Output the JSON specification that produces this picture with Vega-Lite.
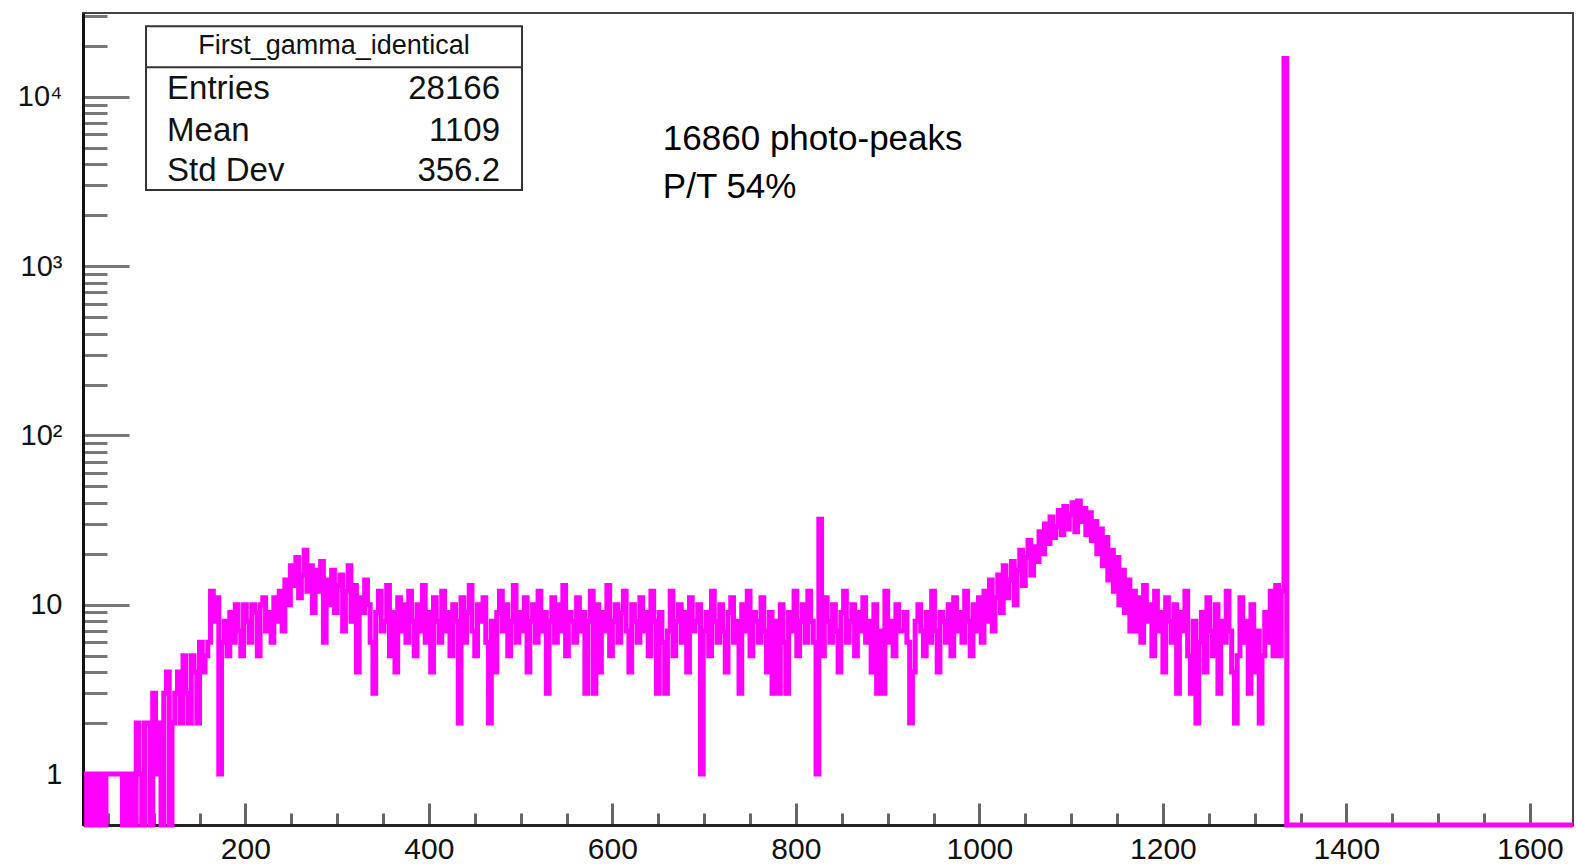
{
 "$schema": "https://vega.github.io/schema/vega-lite/v6.json",
 "width": 1490, "height": 812,
 "autosize": {"type": "none"},
 "padding": {"left": 83, "top": 13, "right": 3, "bottom": 39},
 "background": "white",
 "config": {"view": {"stroke": "#444", "strokeWidth": 2}, "font": "Liberation Sans"},
 "datasets": {
  "hist": [
{"x":24,"c":1},{"x":27,"c":0},{"x":30,"c":1},{"x":33,"c":0},{"x":36,"c":1},{"x":39,"c":0},{"x":42,"c":1},{"x":45,"c":0},{"x":48,"c":1},{"x":51,"c":1},{"x":54,"c":1},{"x":57,"c":1},{"x":60,"c":1},{"x":63,"c":1},
{"x":66,"c":0},{"x":69,"c":1},{"x":72,"c":0},{"x":75,"c":1},{"x":78,"c":0},{"x":81,"c":2},{"x":84,"c":1},{"x":87,"c":0},{"x":90,"c":2},{"x":93,"c":2},{"x":96,"c":0},{"x":99,"c":3},{"x":102,"c":1},{"x":105,"c":2},{"x":108,"c":0},{"x":111,"c":3},{"x":114,"c":4},{"x":117,"c":0},{"x":120,"c":2},{"x":123,"c":3},{"x":126,"c":4},{"x":129,"c":2},{"x":132,"c":5},{"x":135,"c":3},{"x":138,"c":2},{"x":141,"c":5},{"x":144,"c":4},{"x":147,"c":2},{"x":150,"c":6},{"x":153,"c":4},{"x":156,"c":5},{"x":159,"c":6},{"x":162,"c":12},{"x":165,"c":8},{"x":168,"c":11},{"x":171,"c":1},{"x":174,"c":6},{"x":177,"c":8},{"x":180,"c":5},{"x":183,"c":9},{"x":186,"c":6},{"x":189,"c":10},{"x":192,"c":7},{"x":195,"c":5},{"x":198,"c":10},{"x":201,"c":8},{"x":204,"c":6},{"x":207,"c":10},{"x":210,"c":9},{"x":213,"c":5},{"x":216,"c":10},{"x":219,"c":11},{"x":222,"c":7},
{"x":225,"c":9},{"x":228,"c":6},{"x":231,"c":11},{"x":234,"c":8},{"x":237,"c":12},{"x":240,"c":7},{"x":243,"c":14},{"x":246,"c":10},{"x":249,"c":17},{"x":252,"c":13},{"x":255,"c":19},{"x":258,"c":11},{"x":261,"c":15},{"x":264,"c":21},{"x":267,"c":12},{"x":270,"c":17},{"x":273,"c":9},{"x":276,"c":16},{"x":279,"c":12},{"x":282,"c":18},{"x":285,"c":6},{"x":288,"c":14},{"x":291,"c":10},{"x":294,"c":16},{"x":297,"c":9},{"x":300,"c":13},{"x":303,"c":15},{"x":306,"c":7},{"x":309,"c":12},{"x":312,"c":17},{"x":315,"c":8},{"x":318,"c":13},{"x":321,"c":4},{"x":324,"c":11},{"x":327,"c":9},{"x":330,"c":14},
{"x":333,"c":10},{"x":336,"c":6},{"x":339,"c":3},{"x":342,"c":9},{"x":345,"c":12},{"x":348,"c":7},{"x":351,"c":8},{"x":354,"c":13},{"x":357,"c":5},{"x":360,"c":9},
{"x":363,"c":4},{"x":366,"c":11},{"x":369,"c":7},{"x":372,"c":10},{"x":375,"c":6},{"x":378,"c":12},{"x":381,"c":8},{"x":384,"c":5},{"x":387,"c":10},{"x":390,"c":7},
{"x":393,"c":13},{"x":396,"c":6},{"x":399,"c":9},{"x":402,"c":4},{"x":405,"c":11},{"x":408,"c":8},{"x":411,"c":6},{"x":414,"c":12},{"x":417,"c":7},{"x":420,"c":9},
{"x":423,"c":5},{"x":426,"c":10},{"x":429,"c":8},{"x":432,"c":2},{"x":435,"c":11},{"x":438,"c":6},{"x":441,"c":9},{"x":444,"c":13},{"x":447,"c":7},{"x":450,"c":5},
{"x":453,"c":10},{"x":456,"c":8},{"x":459,"c":11},{"x":462,"c":6},{"x":465,"c":2},{"x":468,"c":8},{"x":471,"c":4},{"x":474,"c":9},{"x":477,"c":12},{"x":480,"c":7},
{"x":483,"c":10},{"x":486,"c":5},{"x":489,"c":8},{"x":492,"c":13},{"x":495,"c":6},{"x":498,"c":9},{"x":501,"c":7},{"x":504,"c":11},{"x":507,"c":4},{"x":510,"c":8},
{"x":513,"c":10},{"x":516,"c":6},{"x":519,"c":12},{"x":522,"c":7},{"x":525,"c":9},{"x":528,"c":3},{"x":531,"c":8},{"x":534,"c":11},{"x":537,"c":6},{"x":540,"c":10},
{"x":543,"c":7},{"x":546,"c":13},{"x":549,"c":5},{"x":552,"c":9},{"x":555,"c":8},{"x":558,"c":6},{"x":561,"c":11},{"x":564,"c":7},{"x":567,"c":9},{"x":570,"c":3},
{"x":573,"c":8},{"x":576,"c":12},{"x":579,"c":3},{"x":582,"c":10},{"x":585,"c":4},{"x":588,"c":9},{"x":591,"c":7},{"x":594,"c":13},{"x":597,"c":5},{"x":600,"c":8},
{"x":603,"c":10},{"x":606,"c":6},{"x":609,"c":9},{"x":612,"c":12},{"x":615,"c":7},{"x":618,"c":4},{"x":621,"c":10},{"x":624,"c":8},{"x":627,"c":6},{"x":630,"c":11},
{"x":633,"c":7},{"x":636,"c":9},{"x":639,"c":5},{"x":642,"c":12},{"x":645,"c":8},{"x":648,"c":3},{"x":651,"c":9},{"x":654,"c":6},{"x":657,"c":3},{"x":660,"c":7},
{"x":663,"c":12},{"x":666,"c":5},{"x":669,"c":8},{"x":672,"c":10},{"x":675,"c":6},{"x":678,"c":9},{"x":681,"c":4},{"x":684,"c":11},{"x":687,"c":7},{"x":690,"c":8},
{"x":693,"c":10},{"x":696,"c":1},{"x":699,"c":7},{"x":702,"c":9},{"x":705,"c":5},{"x":708,"c":12},{"x":711,"c":8},{"x":714,"c":6},{"x":717,"c":10},{"x":720,"c":7},
{"x":723,"c":4},{"x":726,"c":9},{"x":729,"c":11},{"x":732,"c":6},{"x":735,"c":8},{"x":738,"c":3},{"x":741,"c":10},{"x":744,"c":7},{"x":747,"c":12},{"x":750,"c":5},
{"x":753,"c":9},{"x":756,"c":8},{"x":759,"c":6},{"x":762,"c":11},{"x":765,"c":7},{"x":768,"c":4},{"x":771,"c":9},{"x":774,"c":3},{"x":777,"c":8},{"x":780,"c":3},
{"x":783,"c":10},{"x":786,"c":6},{"x":789,"c":3},{"x":792,"c":9},{"x":795,"c":7},{"x":798,"c":12},{"x":801,"c":5},{"x":804,"c":8},{"x":807,"c":10},{"x":810,"c":6},
{"x":813,"c":12},{"x":816,"c":8},{"x":819,"c":6},{"x":822,"c":1},{"x":825,"c":32},{"x":828,"c":5},{"x":831,"c":11},{"x":834,"c":8},{"x":837,"c":6},{"x":840,"c":10},
{"x":843,"c":7},{"x":846,"c":4},{"x":849,"c":9},{"x":852,"c":12},{"x":855,"c":6},{"x":858,"c":8},{"x":861,"c":10},{"x":864,"c":5},{"x":867,"c":9},{"x":870,"c":7},
{"x":873,"c":11},{"x":876,"c":6},{"x":879,"c":8},{"x":882,"c":4},{"x":885,"c":10},{"x":888,"c":3},{"x":891,"c":7},{"x":894,"c":3},{"x":897,"c":12},{"x":900,"c":6},
{"x":903,"c":8},{"x":906,"c":5},{"x":909,"c":10},{"x":912,"c":7},{"x":915,"c":7},{"x":918,"c":9},{"x":921,"c":6},{"x":924,"c":2},{"x":927,"c":4},{"x":930,"c":8},
{"x":933,"c":10},{"x":936,"c":7},{"x":939,"c":5},{"x":942,"c":9},{"x":945,"c":6},{"x":948,"c":12},{"x":951,"c":7},{"x":954,"c":4},{"x":957,"c":9},{"x":960,"c":8},
{"x":963,"c":6},{"x":966,"c":10},{"x":969,"c":5},{"x":972,"c":11},{"x":975,"c":7},{"x":978,"c":9},{"x":981,"c":6},{"x":984,"c":12},{"x":987,"c":8},{"x":990,"c":5},
{"x":993,"c":10},{"x":996,"c":7},{"x":999,"c":11},
{"x":1002,"c":6},{"x":1005,"c":12},{"x":1008,"c":8},{"x":1011,"c":14},{"x":1014,"c":7},{"x":1017,"c":11},{"x":1020,"c":15},{"x":1023,"c":9},{"x":1026,"c":17},{"x":1029,"c":11},
{"x":1032,"c":14},{"x":1035,"c":18},{"x":1038,"c":10},{"x":1041,"c":16},{"x":1044,"c":21},{"x":1047,"c":13},{"x":1050,"c":19},{"x":1053,"c":24},{"x":1056,"c":15},{"x":1059,"c":22},
{"x":1062,"c":18},{"x":1065,"c":27},{"x":1068,"c":20},{"x":1071,"c":30},{"x":1074,"c":23},{"x":1077,"c":33},{"x":1080,"c":25},{"x":1083,"c":29},{"x":1086,"c":36},{"x":1089,"c":26},
{"x":1092,"c":38},{"x":1095,"c":28},{"x":1098,"c":34},{"x":1101,"c":40},{"x":1104,"c":27},{"x":1107,"c":41},{"x":1110,"c":31},{"x":1113,"c":37},{"x":1116,"c":26},{"x":1119,"c":35},
{"x":1122,"c":24},{"x":1125,"c":31},{"x":1128,"c":20},{"x":1131,"c":28},{"x":1134,"c":17},{"x":1137,"c":25},{"x":1140,"c":14},{"x":1143,"c":21},{"x":1146,"c":12},{"x":1149,"c":19},
{"x":1152,"c":10},{"x":1155,"c":16},{"x":1158,"c":9},{"x":1161,"c":14},{"x":1164,"c":7},{"x":1167,"c":12},
{"x":1170,"c":7},{"x":1173,"c":11},{"x":1176,"c":6},{"x":1179,"c":13},{"x":1182,"c":8},{"x":1185,"c":10},{"x":1188,"c":5},{"x":1191,"c":12},{"x":1194,"c":7},{"x":1197,"c":9},
{"x":1200,"c":4},{"x":1203,"c":11},{"x":1206,"c":8},{"x":1209,"c":6},{"x":1212,"c":10},{"x":1215,"c":3},{"x":1218,"c":9},{"x":1221,"c":7},{"x":1224,"c":12},{"x":1227,"c":5},
{"x":1230,"c":3},{"x":1233,"c":8},{"x":1236,"c":2},{"x":1239,"c":6},{"x":1242,"c":9},{"x":1245,"c":4},{"x":1248,"c":11},{"x":1251,"c":7},{"x":1254,"c":5},{"x":1257,"c":10},
{"x":1260,"c":3},{"x":1263,"c":8},{"x":1266,"c":6},{"x":1269,"c":12},{"x":1272,"c":7},{"x":1275,"c":4},{"x":1278,"c":2},{"x":1281,"c":5},{"x":1284,"c":11},{"x":1287,"c":6},
{"x":1290,"c":8},{"x":1293,"c":3},{"x":1296,"c":10},{"x":1299,"c":4},{"x":1302,"c":7},{"x":1305,"c":2},{"x":1308,"c":5},{"x":1311,"c":9},{"x":1314,"c":6},{"x":1317,"c":12},
{"x":1320,"c":5},{"x":1323,"c":13},{"x":1326,"c":5},{"x":1329,"c":12},{"x":1332,"c":16860},{"x":1335,"c":0},{"x":1647,"c":0}
  ]
 },
 "layer": [
  {
   "data": {"name": "hist"},
   "mark": {"type": "line", "interpolate": "step-after", "color": "#ff00ff", "strokeWidth": 5},
   "encoding": {
    "x": {"field": "x", "type": "quantitative",
     "scale": {"domain": [23, 1647], "nice": false, "zero": false},
     "axis": {"title": null, "grid": false,
      "values": [50,100,150,200,250,300,350,400,450,500,550,600,650,700,750,800,850,900,950,1000,1050,1100,1150,1200,1250,1300,1350,1400,1450,1500,1550,1600],
      "labelExpr": "datum.value % 200 == 0 ? '' + datum.value : ''",
      "tickSize": {"condition": {"test": "datum.value % 200 == 0", "value": -22}, "value": -12},
      "tickColor": "#666", "tickWidth": 3,
      "domainColor": "#222", "domainWidth": 3,
      "labelFont": "Liberation Sans", "labelFontSize": 30, "labelColor": "#111",
      "labelBaseline": "alphabetic",
      "labelPadding": 55, "labelOverlap": false, "labelBound": false, "labelFlush": false}
    },
    "y": {"field": "c", "type": "quantitative",
     "scale": {"type": "log", "domain": [0.5, 31300], "nice": false, "clamp": true},
     "axis": {"title": null, "grid": false,
      "values": [0.6,0.7,0.8,0.9,1,2,3,4,5,6,7,8,9,10,20,30,40,50,60,70,80,90,100,200,300,400,500,600,700,800,900,1000,2000,3000,4000,5000,6000,7000,8000,9000,10000,20000,30000],
      "labelExpr": "datum.value == 1 ? '1' : datum.value == 10 ? '10' : datum.value == 100 ? '10²' : datum.value == 1000 ? '10³' : datum.value == 10000 ? '10⁴' : ''",
      "tickSize": {"condition": {"test": "indexof([1,10,100,1000,10000], datum.value) >= 0", "value": -46}, "value": -24},
      "tickColor": "#777", "tickWidth": 3,
      "domainColor": "#111", "domainWidth": 3,
      "labelFont": "Liberation Sans", "labelFontSize": 29, "labelColor": "#111",
      "labelPadding": 67, "labelOverlap": false, "labelBound": false, "labelFlush": false}
    }
   }
  },
  {
   "data": {"values": [{}]},
   "mark": {"type": "rect", "fill": "white", "stroke": "#333", "strokeWidth": 2},
   "encoding": {
    "x": {"datum": 91.7, "type": "quantitative"},
    "x2": {"datum": 501.5},
    "y": {"datum": 26180, "type": "quantitative"},
    "y2": {"datum": 2815}
   }
  },
  {
   "data": {"values": [{}]},
   "mark": {"type": "rule", "stroke": "#333", "strokeWidth": 2},
   "encoding": {
    "x": {"datum": 91.7, "type": "quantitative"},
    "x2": {"datum": 501.5},
    "y": {"datum": 14990, "type": "quantitative"}
   }
  },
  {
   "data": {"values": [{}]},
   "mark": {"type": "text", "align": "center", "baseline": "middle", "fontSize": 27, "font": "Liberation Sans", "color": "#111"},
   "encoding": {
    "x": {"datum": 296.6, "type": "quantitative"},
    "y": {"datum": 19950, "type": "quantitative"},
    "text": {"value": "First_gamma_identical"}
   }
  },
  {
   "data": {"values": [{}]},
   "mark": {"type": "text", "align": "left", "baseline": "middle", "fontSize": 33, "font": "Liberation Sans", "color": "#111"},
   "encoding": {
    "x": {"datum": 114.6, "type": "quantitative"},
    "y": {"datum": 11200, "type": "quantitative"},
    "text": {"value": "Entries"}
   }
  },
  {
   "data": {"values": [{}]},
   "mark": {"type": "text", "align": "left", "baseline": "middle", "fontSize": 33, "font": "Liberation Sans", "color": "#111"},
   "encoding": {
    "x": {"datum": 114.6, "type": "quantitative"},
    "y": {"datum": 6310, "type": "quantitative"},
    "text": {"value": "Mean"}
   }
  },
  {
   "data": {"values": [{}]},
   "mark": {"type": "text", "align": "left", "baseline": "middle", "fontSize": 33, "font": "Liberation Sans", "color": "#111"},
   "encoding": {
    "x": {"datum": 114.6, "type": "quantitative"},
    "y": {"datum": 3645, "type": "quantitative"},
    "text": {"value": "Std Dev"}
   }
  },
  {
   "data": {"values": [{}]},
   "mark": {"type": "text", "align": "right", "baseline": "middle", "fontSize": 33, "font": "Liberation Sans", "color": "#111"},
   "encoding": {
    "x": {"datum": 477.5, "type": "quantitative"},
    "y": {"datum": 11200, "type": "quantitative"},
    "text": {"value": "28166"}
   }
  },
  {
   "data": {"values": [{}]},
   "mark": {"type": "text", "align": "right", "baseline": "middle", "fontSize": 33, "font": "Liberation Sans", "color": "#111"},
   "encoding": {
    "x": {"datum": 477.5, "type": "quantitative"},
    "y": {"datum": 6310, "type": "quantitative"},
    "text": {"value": "1109"}
   }
  },
  {
   "data": {"values": [{}]},
   "mark": {"type": "text", "align": "right", "baseline": "middle", "fontSize": 33, "font": "Liberation Sans", "color": "#111"},
   "encoding": {
    "x": {"datum": 477.5, "type": "quantitative"},
    "y": {"datum": 3645, "type": "quantitative"},
    "text": {"value": "356.2"}
   }
  },
  {
   "data": {"values": [{}]},
   "mark": {"type": "text", "align": "left", "baseline": "middle", "fontSize": 35, "font": "Liberation Sans", "color": "#000"},
   "encoding": {
    "x": {"datum": 655, "type": "quantitative"},
    "y": {"datum": 5660, "type": "quantitative"},
    "text": {"value": "16860 photo-peaks"}
   }
  },
  {
   "data": {"values": [{}]},
   "mark": {"type": "text", "align": "left", "baseline": "middle", "fontSize": 35, "font": "Liberation Sans", "color": "#000"},
   "encoding": {
    "x": {"datum": 655, "type": "quantitative"},
    "y": {"datum": 2930, "type": "quantitative"},
    "text": {"value": "P/T 54%"}
   }
  }
 ]
}
